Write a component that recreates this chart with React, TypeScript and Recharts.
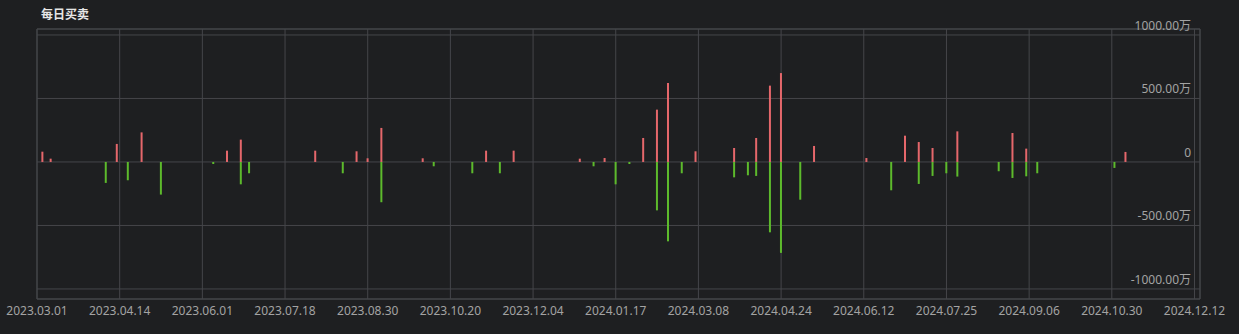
import { BarChart, Bar, XAxis, YAxis, CartesianGrid, ReferenceLine } from "recharts";

// trading-day index of each bar (0 = 2023.03.01), values in 万
const dayIndex = [2, 5, 25, 29, 33, 38, 45, 64, 69, 74, 77, 101, 111, 116, 120, 125, 140, 144, 158, 163, 168, 173, 197, 202, 206, 210, 215, 220, 225, 229, 234, 239, 253, 258, 261, 266, 270, 277, 282, 301, 310, 315, 320, 325, 330, 334, 349, 354, 359, 363, 391, 395];
const buyValues = [81, 26, 0, 142, 0, 233, 0, 0, 89, 176, 0, 89, 0, 84, 29, 268, 29, 0, 0, 89, 0, 89, 26, 0, 31, 0, 0, 189, 412, 622, 0, 84, 110, 0, 189, 601, 700, 0, 126, 31, 0, 207, 157, 110, 0, 241, 0, 228, 105, 0, 0, 79];
const sellValues = [0, 0, -165, 0, -144, 0, -257, -16, 0, -176, -89, 0, -89, 0, 0, -317, 0, -34, -89, 0, -89, 0, 0, -34, 0, -176, -16, 0, -381, -625, -89, 0, -121, -105, -110, -554, -716, -297, 0, 0, -223, 0, -173, -110, -89, -115, -73, -126, -113, -89, -47, 0];

const tickDays = [0, 30, 60, 90, 120, 150, 180, 210, 240, 270, 300, 330, 360, 390, 420];
const tickLabels = ["2023.03.01", "2023.04.14", "2023.06.01", "2023.07.18", "2023.08.30", "2023.10.20", "2023.12.04", "2024.01.17", "2024.03.08", "2024.04.24", "2024.06.12", "2024.07.25", "2024.09.06", "2024.10.30", "2024.12.12"];
const yTicks = [-1000, -500, 0, 500, 1000];

const X_MAX = 422;
const Y_MIN = -1079;
const Y_MAX = 1047;

const data = dayIndex.map((i, k) => ({ i, buy: buyValues[k], sell: sellValues[k] }));

const GRID = "#45464a";
const LABEL = "#a3a3a3";
const FONT = "'Noto Sans', 'Noto Sans CJK SC', sans-serif";
const PLOT_RIGHT = 1200;

function XTick(props: any) {
  const k = tickDays.indexOf(props.payload.value);
  return (
    <text x={props.x} y={props.y + 16} textAnchor="middle" fill={LABEL} fontSize={12} fontFamily={FONT}>
      {tickLabels[k]}
    </text>
  );
}

function YTick(props: any) {
  const v = props.payload.value;
  return (
    <text x={PLOT_RIGHT - 9} y={props.y - 5} textAnchor="end" fill={LABEL} fontSize={12} fontFamily={FONT}>
      {v === 0 ? "0" : `${v.toFixed(2)}万`}
    </text>
  );
}

export default function App() {
  return (
    <div style={{ position: "fixed", left: 0, top: 0, width: 1239, height: 334, background: "#1e1f21", fontFamily: FONT }}>
      <div style={{ position: "absolute", left: 41, top: 5, fontSize: 12, lineHeight: "17px", fontWeight: 700, color: "#e6e6e6", fontFamily: "'Noto Sans CJK SC', sans-serif" }}>
        每日买卖
      </div>
      <BarChart width={1239} height={334} data={data} stackOffset="sign" margin={{ top: 29, right: 39, bottom: 15, left: 37 }}>
        <CartesianGrid stroke={GRID} />
        <XAxis
          dataKey="i"
          type="number"
          domain={[0, X_MAX]}
          ticks={tickDays}
          allowDataOverflow
          height={20}
          tickLine={false}
          axisLine={false}
          tickSize={0}
          tickMargin={0}
          tick={<XTick />}
          interval={0}
        />
        <YAxis
          orientation="right"
          mirror
          width={60}
          type="number"
          domain={[Y_MIN, Y_MAX]}
          ticks={yTicks}
          allowDataOverflow
          tickLine={false}
          axisLine={false}
          tickSize={0}
          tickMargin={0}
          tick={<YTick />}
          interval={0}
        />
        <ReferenceLine x={0} stroke={GRID} />
        <ReferenceLine x={X_MAX} stroke={GRID} />
        <ReferenceLine y={Y_MAX} stroke={GRID} />
        <ReferenceLine y={Y_MIN} stroke={GRID} />
        <Bar dataKey="buy" stackId="a" fill="#e5676b" barSize={2} isAnimationActive={false} />
        <Bar dataKey="sell" stackId="a" fill="#5dba2c" barSize={2} isAnimationActive={false} />
      </BarChart>
    </div>
  );
}
